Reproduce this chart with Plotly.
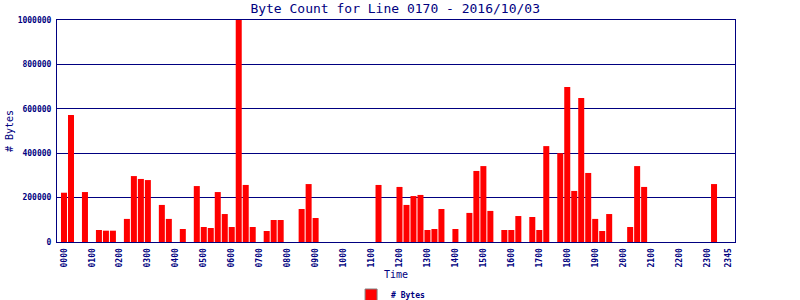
import plotly.graph_objects as go

# 15-minute slots 0000..2345 (96 slots)
time_labels = [f"{h:02d}{m:02d}" for h in range(24) for m in (0, 15, 30, 45)]

# Byte counts per slot, slot index -> value
byte_values = [
    222000, 572000, 0, 225000,          # 00
    0, 54000, 51000, 51000,             # 01
    0, 104000, 297000, 284000,          # 02
    279000, 0, 167000, 104000,          # 03
    0, 58600, 0, 252000,                # 04
    67500, 63000, 225000, 126000,       # 05
    67500, 1000000, 257000, 67500,      # 06
    0, 49500, 99000, 99000,             # 07
    0, 0, 148600, 261000,               # 08
    108000, 0, 0, 0,                    # 09
    0, 0, 0, 0,                         # 10
    0, 257000, 0, 0,                    # 11
    248000, 167000, 207000, 212000,     # 12
    54000, 58600, 148600, 0,            # 13
    58600, 0, 131000, 320000,           # 14
    342000, 140000, 0, 54000,           # 15
    54000, 117000, 0, 112600,           # 16
    54000, 432000, 0, 400000,           # 17
    698000, 230000, 649000, 311000,     # 18
    104000, 49500, 126000, 0,           # 19
    0, 67500, 342000, 248000,           # 20
    0, 0, 0, 0,                         # 21
    0, 0, 0, 0,                         # 22
    0, 261000, 0, 0,                    # 23
]

tick_slots = list(range(0, 96, 4)) + [95]
tick_text = [time_labels[i] for i in tick_slots]

y_ticks = [0, 200000, 400000, 600000, 800000, 1000000]

NAVY = "#000080"
RED = "#FF0000"
FONT = "DejaVu Sans Mono"

fig = go.Figure()
fig.add_trace(go.Bar(
    x=list(range(96)), y=byte_values, width=0.86,
    marker=dict(color=RED, line=dict(width=0)),
    showlegend=False, name="# Bytes",
))
# legend swatch only
fig.add_trace(go.Bar(
    x=[None], y=[None], name="# Bytes",
    marker=dict(color=RED, line=dict(color="#808080", width=1)),
    showlegend=True,
))

fig.update_layout(
    width=800, height=300,
    margin=dict(l=57, r=65, t=20, b=58, autoexpand=False),
    paper_bgcolor="white", plot_bgcolor="white",
    barmode="overlay",
    title=dict(text="Byte Count for Line 0170 - 2016/10/03",
               x=0.494, xanchor="center", y=1 - 8 / 300, yanchor="middle",
               font=dict(family=FONT, size=13, color=NAVY)),
    font=dict(family=FONT, color=NAVY),
    legend=dict(orientation="h", x=0.492, xanchor="center",
                yref="container", y=(300 - 295) / 300, yanchor="middle",
                font=dict(family=FONT, size=8, color=NAVY, weight="bold"),
                itemwidth=30, tracegroupgap=0, bgcolor="rgba(0,0,0,0)"),
    bargap=0.14,
)

fig.update_xaxes(
    range=[-1, 96], tickmode="array", tickvals=tick_slots, ticktext=tick_text,
    tickangle=-90, tickfont=dict(family=FONT, size=8, color=NAVY, weight="bold"),
    showgrid=False, zeroline=False,
    showline=True, linecolor=NAVY, linewidth=1, mirror=True,
    ticks="", ticklabelstandoff=2,
    title=dict(text="Time", font=dict(family=FONT, size=10, color=NAVY), standoff=10),
)
fig.update_yaxes(
    range=[0, 1000000], tickmode="array", tickvals=y_ticks,
    ticktext=[str(v) for v in y_ticks],
    tickfont=dict(family=FONT, size=8, color=NAVY, weight="bold"),
    showgrid=True, gridcolor=NAVY, gridwidth=1, zeroline=False,
    showline=True, linecolor=NAVY, linewidth=1, mirror=True,
    ticks="", ticklabelstandoff=3,
    title=dict(text="# Bytes", font=dict(family=FONT, size=10, color=NAVY), standoff=2),
)

fig.write_html("out.html")
